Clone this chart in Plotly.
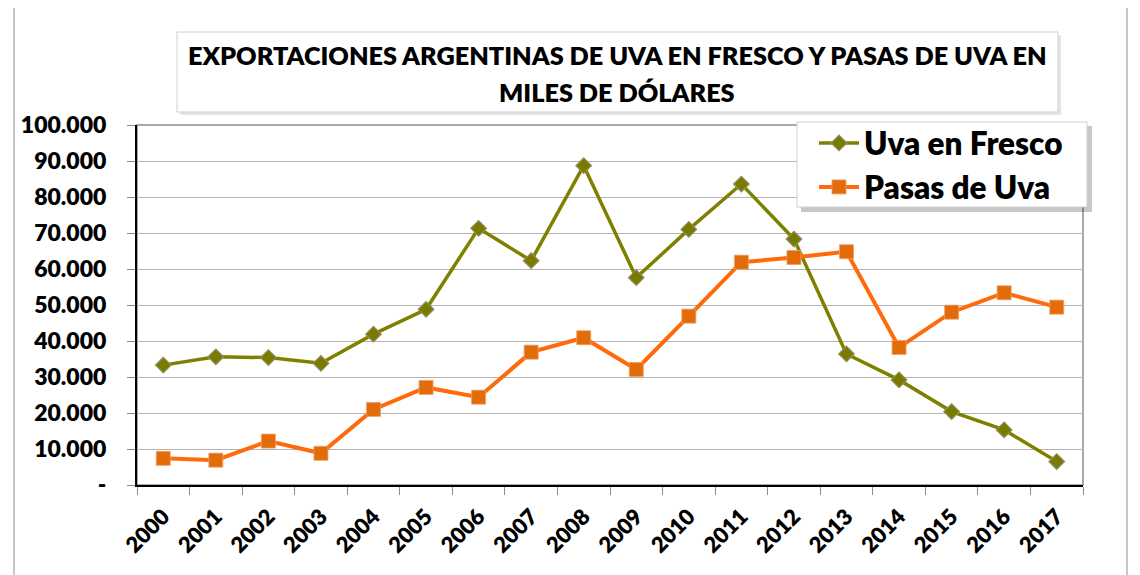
import plotly.graph_objects as go

years = [str(y) for y in range(2000, 2018)]
uva_fresco = [33300, 35600, 35400, 33800, 41900, 48800, 71300, 62300, 88700,
              57600, 71000, 83600, 68300, 36400, 29200, 20400, 15300, 6500]
pasas_uva = [7400, 6900, 12200, 8800, 21000, 27100, 24400, 36900, 40900,
             32100, 46900, 61900, 63200, 64800, 38200, 48000, 53400, 49400]
y_tickvals = [0, 10000, 20000, 30000, 40000, 50000, 60000, 70000, 80000, 90000, 100000]
y_ticktext = ["-", "10.000", "20.000", "30.000", "40.000", "50.000", "60.000",
              "70.000", "80.000", "90.000", "100.000"]
title_lines = ["EXPORTACIONES ARGENTINAS DE UVA EN FRESCO Y PASAS DE UVA EN",
               "MILES DE DÓLARES"]

W, H = 1140, 575
OFF = 8  # page body margin offset
# plot area in screen (reference) pixels
L, R, T, B = 137, 1083, 125, 485
pw, ph = R - L, B - T

def px(x):
    return (x - L) / pw

def py(y):
    return (B - y) / ph

FONT = "Lato, 'Open Sans', sans-serif"
WT = 800

fig = go.Figure()
fig.add_trace(go.Scatter(
    x=years, y=uva_fresco, name="Uva en Fresco", mode="lines+markers",
    legendgroup="a",
    line=dict(color="#808000", width=3.5),
    marker=dict(symbol="diamond", size=12, color="#7a7a00",
                line=dict(color="#8e8e60", width=1.2)),
))
fig.add_trace(go.Scatter(
    x=years, y=pasas_uva, name="Pasas de Uva", mode="lines+markers",
    legendgroup="b",
    line=dict(color="#ff6a0a", width=4),
    marker=dict(symbol="square", size=14, color="#e36c0a",
                line=dict(color="#eda06a", width=0.8)),
))

shapes = []
shapes.append(dict(type="rect", xref="paper", yref="paper",
                   x0=px(14), x1=px(1127), y0=py(600), y1=py(7),
                   line=dict(color="#8c8c8c", width=1), layer="below"))
shapes.append(dict(type="rect", xref="paper", yref="paper",
                   x0=0, x1=1, y0=0, y1=1,
                   line=dict(color="#8c8c8c", width=1.5), layer="below"))
shapes.append(dict(type="rect", xref="paper", yref="paper",
                   x0=px(180), x1=px(1061), y0=py(115), y1=py(35),
                   line=dict(width=0), fillcolor="rgba(0,0,0,0.10)", layer="above"))
shapes.append(dict(type="rect", xref="paper", yref="paper",
                   x0=px(177), x1=px(1058), y0=py(112), y1=py(32),
                   line=dict(color="#d0d0d0", width=1), fillcolor="white", layer="above"))
shapes.append(dict(type="rect", xref="paper", yref="paper",
                   x0=px(801), x1=px(1092), y0=py(212), y1=py(126),
                   line=dict(width=0), fillcolor="rgba(0,0,0,0.22)", layer="above"))
shapes.append(dict(type="rect", xref="paper", yref="paper",
                   x0=px(797), x1=px(1087), y0=py(207), y1=py(122),
                   line=dict(color="#d0d0d0", width=1), fillcolor="white", layer="above"))

annotations = [
    dict(text=title_lines[0], xref="paper", yref="paper", x=px(617), y=py(55),
         showarrow=False, xanchor="center", yanchor="middle",
         font=dict(family=FONT, size=25.3, color="black", weight=WT)),
    dict(text=title_lines[1], xref="paper", yref="paper", x=px(617), y=py(92),
         showarrow=False, xanchor="center", yanchor="middle",
         font=dict(family=FONT, size=25.3, color="black", weight=WT)),
]

fig.update_layout(
    width=W, height=H,
    margin=dict(l=L - OFF, r=W - (R - OFF), t=T - OFF, b=H - (B - OFF), pad=0,
                autoexpand=False),
    paper_bgcolor="white", plot_bgcolor="white",
    showlegend=True,
    legend=dict(x=px(814), y=py(116), xanchor="left", yanchor="top",
                bgcolor="rgba(0,0,0,0)", borderwidth=0,
                font=dict(family=FONT, size=31.5, color="black", weight=WT),
                tracegroupgap=0, traceorder="grouped", itemwidth=40),
    shapes=shapes, annotations=annotations,
    xaxis=dict(type="category", range=[-0.5, 17.5], tickson="boundaries",
               ticks="outside", ticklen=8,
               tickcolor="#8c8c8c", tickangle=-45, showgrid=False,
               showline=True, linecolor="black", linewidth=2,
               ticklabelstandoff=8, automargin=False,
               tickfont=dict(family=FONT, size=22, color="black", weight=WT)),
    yaxis=dict(range=[0, 100000], tickvals=y_tickvals, ticktext=y_ticktext,
               ticks="outside", ticklen=8, tickcolor="#8c8c8c",
               showgrid=True, gridcolor="#b4b4b4", gridwidth=1.3,
               zeroline=False, showline=True, linecolor="black", linewidth=2,
               ticklabelstandoff=16, automargin=False,
               tickfont=dict(family=FONT, size=23, color="black", weight=WT)),
)

fig.write_html("out.html")
